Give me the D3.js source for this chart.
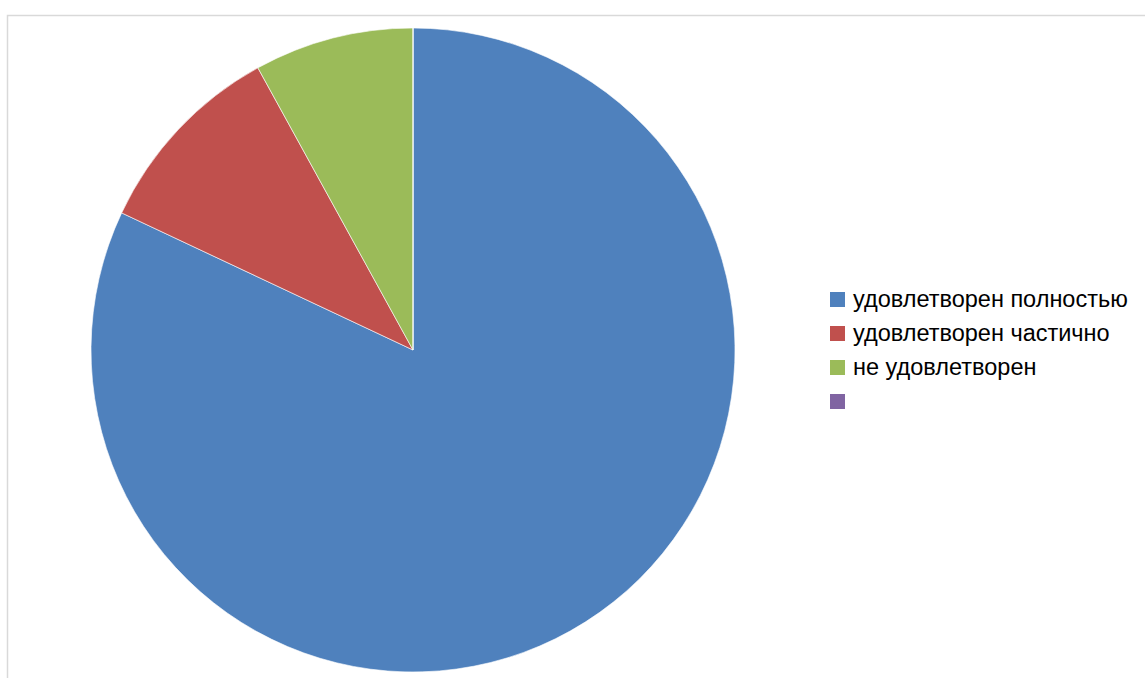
<!DOCTYPE html>
<html>
<head>
<meta charset="utf-8">
<script src="https://cdn.jsdelivr.net/npm/d3@7"></script>
<style>
  body { margin: 0; background: #fff; }
</style>
</head>
<body>
<div id="chart"></div>
<script>
// survey answers (share, %)
var labels = ["удовлетворен полностью", "удовлетворен частично", "не удовлетворен", ""];
var values = [82, 10, 8, 0];
var colors = ["#4f81bd", "#c0504d", "#9bbb59", "#8064a2"];

var width = 1145, height = 678;
var svg = d3.select("#chart").append("svg")
  .attr("width", width)
  .attr("height", height);

// chart area frame
svg.append("rect")
  .attr("x", 7.5).attr("y", 15.5)
  .attr("width", 1145).attr("height", 700)
  .attr("fill", "none")
  .attr("stroke", "#d9d9d9")
  .attr("stroke-width", 1.5);

var cx = 413, cy = 350, r = 322;

var pie = d3.pie().sort(null).value(function (d) { return d; });
var arc = d3.arc().innerRadius(0).outerRadius(r);

var g = svg.append("g").attr("transform", "translate(" + cx + "," + cy + ")");
g.selectAll("path")
  .data(pie(values))
  .enter()
  .append("path")
    .attr("d", arc)
    .attr("fill", function (d, i) { return colors[i]; })
    .attr("stroke", "#fff")
    .attr("stroke-width", 0.6);

// legend
var legend = svg.append("g").attr("transform", "translate(830,292)");
var item = legend.selectAll("g")
  .data(labels)
  .enter()
  .append("g")
    .attr("transform", function (d, i) { return "translate(0," + (i * 34) + ")"; });

item.append("rect")
  .attr("width", 15).attr("height", 15)
  .attr("fill", function (d, i) { return colors[i]; });

item.append("text")
  .attr("x", 23)
  .attr("y", 15)
  .style("font-family", "'Liberation Sans', Arial, sans-serif")
  .style("font-size", "23.5px")
  .style("fill", "#000")
  .text(function (d) { return d; });
</script>
</body>
</html>
